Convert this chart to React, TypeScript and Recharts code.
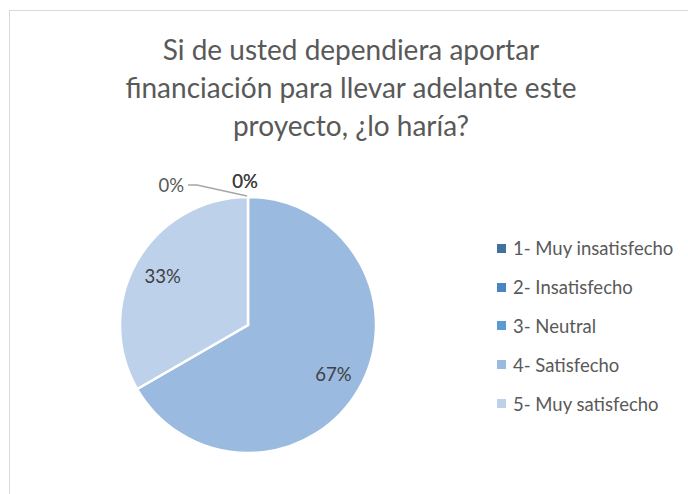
import { PieChart, Pie, Cell, Legend } from 'recharts';

const categorias = [
  '1- Muy insatisfecho',
  '2- Insatisfecho',
  '3- Neutral',
  '4- Satisfecho',
  '5- Muy satisfecho',
];
const respuestas = [0, 0, 0, 2, 1];
const colores = ['#41719c', '#4a84c2', '#5b9bd5', '#9bbae0', '#bdd1ea'];

const tituloLineas = [
  'Si de usted dependiera aportar',
  'financiación para llevar adelante este',
  'proyecto, ¿lo haría?',
];

const data = categorias.map((name, i) => ({ name, value: respuestas[i] }));

const RADIAN = Math.PI / 180;
const FONT = 'Lato, "Open Sans", sans-serif';

function renderLabel(props: any) {
  const { cx, cy, midAngle, outerRadius, percent, index } = props;
  const text = `${Math.round(percent * 100)}%`;
  const cos = Math.cos(-midAngle * RADIAN);
  const sin = Math.sin(-midAngle * RADIAN);

  if (respuestas[index] === 0) {
    const ex = cx + cos * outerRadius - 1;
    const ey = cy + sin * outerRadius - 1;
    if (index === 0) {
      // leader line to the left
      const points = `${ex},${ey} ${ex - 50},${ey - 11} ${ex - 59},${ey - 11}`;
      return (
        <g key={`lbl-${index}`}>
          <polyline points={points} fill="none" stroke="#a6a6a6" strokeWidth={1.5} />
          <text
            x={ex - 63}
            y={ey - 11}
            textAnchor="end"
            dominantBaseline="central"
            fill="#595959"
            fontSize={18.5}
            fontFamily={FONT}
          >
            {text}
          </text>
        </g>
      );
    }
    return (
      <text
        key={`lbl-${index}`}
        x={ex - 2}
        y={ey - 15}
        textAnchor="middle"
        dominantBaseline="central"
        fill="#404040"
        fontSize={18.5}
        fontFamily={FONT}
      >
        {text}
      </text>
    );
  }

  const r = outerRadius * 0.77;
  return (
    <text
      key={`lbl-${index}`}
      x={cx + cos * r}
      y={cy + sin * r}
      textAnchor="middle"
      dominantBaseline="central"
      fill="#404040"
      fontSize={18.5}
      fontFamily={FONT}
    >
      {text}
    </text>
  );
}

function renderLegend(props: any) {
  const { payload } = props;
  return (
    <div style={{ fontFamily: FONT }}>
      {(payload || []).map((entry: any, i: number) => (
        <div
          key={i}
          style={{ display: 'flex', alignItems: 'center', height: 38.8, color: '#595959', fontSize: 18.5 }}
        >
          <span
            style={{ display: 'inline-block', width: 9, height: 9, background: entry.color, marginRight: 7 }}
          />
          <span>{entry.value}</span>
        </div>
      ))}
    </div>
  );
}

export default function App() {
  return (
    <div
      style={{
        position: 'fixed',
        left: 9,
        top: 10,
        width: 684,
        height: 500,
        border: '1px solid #d9d9d9',
        boxSizing: 'border-box',
        background: '#fff',
        overflow: 'hidden',
      }}
    >
      <div
        style={{
          position: 'absolute',
          left: 0,
          top: 19,
          width: 682,
          textAlign: 'center',
          fontFamily: FONT,
          fontSize: 28,
          lineHeight: '38px',
          color: '#595959',
        }}
      >
        {tituloLineas.map((l) => (
          <div key={l}>{l}</div>
        ))}
      </div>
      <PieChart
        width={682}
        height={490}
        margin={{ top: 0, right: 0, bottom: 0, left: 0 }}
        style={{ position: 'absolute', left: 0, top: 0 }}
      >
        <Pie
          data={data}
          dataKey="value"
          nameKey="name"
          cx={238}
          cy={314}
          outerRadius={128}
          startAngle={90}
          endAngle={-270}
          stroke="#ffffff"
          strokeWidth={2.5}
          label={renderLabel}
          labelLine={false}
          isAnimationActive={false}
        >
          {data.map((d, i) => (
            <Cell key={d.name} fill={colores[i]} />
          ))}
        </Pie>
        <Legend
          layout="vertical"
          verticalAlign="top"
          align="right"
          content={renderLegend}
          wrapperStyle={{ left: 487, top: 218, width: 190 }}
        />
      </PieChart>
    </div>
  );
}
